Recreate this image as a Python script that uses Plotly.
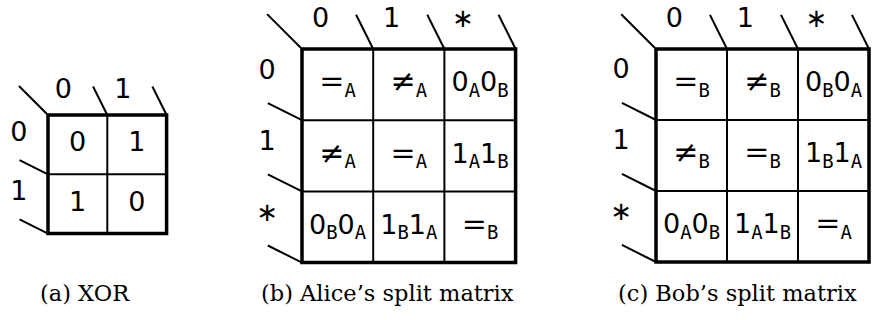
import plotly.graph_objects as go

W, H = 872, 320

XOR_ROWS = ["0", "1"]
XOR_COLS = ["0", "1"]
XOR_CELLS = [
    ["0", "1"],
    ["1", "0"],
]

SPLIT_ROWS = ["0", "1", "*"]
SPLIT_COLS = ["0", "1", "*"]

# each cell is a run of (symbol, party) pairs, e.g. "0A0B" -> 0_A 0_B
ALICE_CELLS = [
    ["=A", "≠A", "0A0B"],
    ["≠A", "=A", "1A1B"],
    ["0B0A", "1B1A", "=B"],
]
BOB_CELLS = [
    ["=B", "≠B", "0B0A"],
    ["≠B", "=B", "1B1A"],
    ["0A0B", "1A1B", "=A"],
]

CAPTIONS = ["(a) XOR", "(b) Alice’s split matrix", "(c) Bob’s split matrix"]

SANS = "DejaVu Sans, sans-serif"
MONO = "DejaVu Sans Mono, monospace"
SERIF = "DejaVu Serif, serif"
FONT_SIZE = 27

# grid origin and cell size in pixels, caption centre
PANELS = [
    dict(rows=XOR_ROWS, cols=XOR_COLS, cells=XOR_CELLS, ox=48, oy=115, cell=59.3, cap_x=85),
    dict(rows=SPLIT_ROWS, cols=SPLIT_COLS, cells=ALICE_CELLS, ox=302, oy=49, cell=71.2, cap_x=387),
    dict(rows=SPLIT_ROWS, cols=SPLIT_COLS, cells=BOB_CELLS, ox=656, oy=49, cell=71.0, cap_x=737),
]
CAP_Y = 293


def cell_html(s: str) -> str:
    if len(s) == 1:
        return s
    out = ""
    for g, p in zip(s[0::2], s[1::2]):
        if g in "=≠":
            g = f'<span style="font-family:{SERIF};font-size:30px">{g}</span>'
        out += f'{g}<sub><span style="font-family:{MONO}">{p}</span></sub>'
    return out


def label_html(s: str) -> str:
    # the wildcard star: use the bigger asterisk operator glyph
    if s == "*":
        return '<span style="font-size:26px">∗</span>'
    return s


def grid_lines(n: int):
    thin_x, thin_y = [], []
    for k in range(1, n):
        thin_x += [k, k, None, 0, n, None]
        thin_y += [0, n, None, k, k, None]
    thin_x += [0, -0.49, None]
    thin_y += [0, -0.49, None]
    for k in range(1, n + 1):
        thin_x += [k, k - 0.24, None, 0, -0.48, None]
        thin_y += [0, -0.48, None, k, k - 0.24, None]
    thick_x = [0, n, n, 0, 0]
    thick_y = [0, 0, n, n, 0]
    return thin_x, thin_y, thick_x, thick_y


fig = go.Figure()
layout = {}

for idx, p in enumerate(PANELS, start=1):
    sfx = "" if idx == 1 else str(idx)
    xa, ya = f"x{sfx}", f"y{sfx}"
    n = len(p["rows"])
    s = p["cell"]

    thin_x, thin_y, thick_x, thick_y = grid_lines(n)
    fig.add_trace(go.Scatter(x=thin_x, y=thin_y, mode="lines", line=dict(color="black", width=2),
                             xaxis=xa, yaxis=ya, hoverinfo="skip", showlegend=False))
    fig.add_trace(go.Scatter(x=thick_x, y=thick_y, mode="lines", line=dict(color="black", width=3.5),
                             xaxis=xa, yaxis=ya, hoverinfo="skip", showlegend=False))

    tx, ty, tt = [], [], []
    for i, row in enumerate(p["cells"]):
        for j, c in enumerate(row):
            tx.append(j + 0.5)
            ty.append(i + 0.5)
            tt.append(cell_html(c))
    fig.add_trace(go.Scatter(x=tx, y=ty, text=tt, mode="text", textposition="middle center",
                             textfont=dict(family=SANS, size=FONT_SIZE, color="black"),
                             xaxis=xa, yaxis=ya, hoverinfo="skip", showlegend=False, cliponaxis=False))

    lx = [j + 0.26 for j in range(n)] + [-0.49] * n
    ly = [-0.40] * n + [i + 0.32 for i in range(n)]
    fig.add_trace(go.Scatter(x=lx, y=ly, text=[label_html(t) for t in p["cols"] + p["rows"]],
                             mode="text", textposition="middle center",
                             textfont=dict(family=SANS, size=FONT_SIZE, color="black"),
                             xaxis=xa, yaxis=ya, hoverinfo="skip", showlegend=False, cliponaxis=False))

    layout[f"xaxis{sfx}"] = dict(domain=[0, 1], range=[-p["ox"] / s, (W - p["ox"]) / s],
                                 visible=False, anchor=ya)
    layout[f"yaxis{sfx}"] = dict(domain=[0, 1], range=[(H - p["oy"]) / s, -p["oy"] / s],
                                 visible=False, anchor=xa)

    fig.add_annotation(text=CAPTIONS[idx - 1], x=p["cap_x"] / W, y=1 - CAP_Y / H,
                       xref="paper", yref="paper", showarrow=False,
                       xanchor="center", yanchor="middle",
                       font=dict(family=SERIF, size=22.5, color="black"))

fig.update_layout(
    **layout,
    width=W,
    height=H,
    margin=dict(l=0, r=0, t=0, b=0),
    paper_bgcolor="white",
    plot_bgcolor="rgba(0,0,0,0)",
)

fig.write_html("out.html", config={"displayModeBar": False},
               post_script="document.body.style.margin='0';")
